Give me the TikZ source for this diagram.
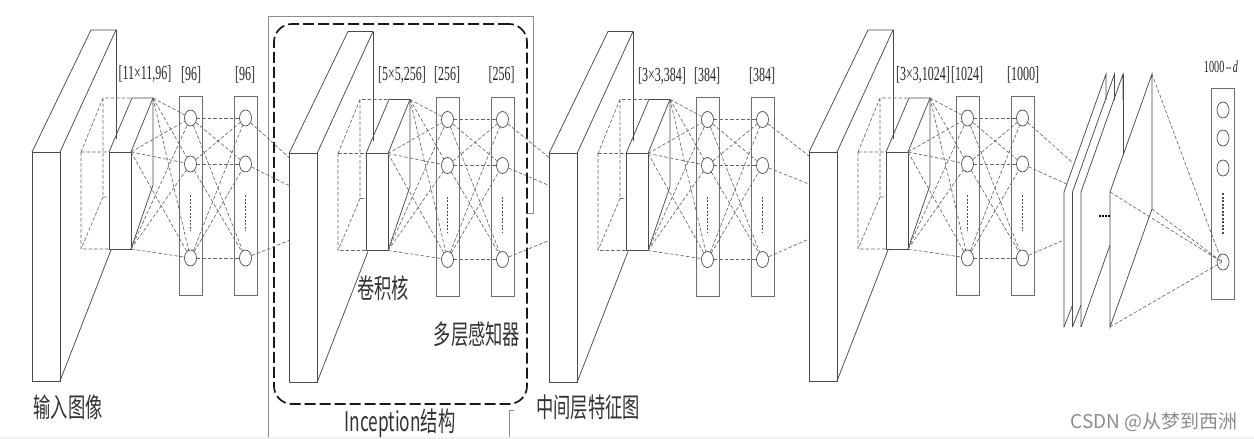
\documentclass[tikz,border=0pt]{standalone}
\usepackage{fontspec}
\setmainfont{Liberation Serif}
\newfontfamily\cjk{Noto Sans CJK SC}
\newfontfamily\wm{Liberation Sans}
\usetikzlibrary{shapes.geometric,calc}
\definecolor{ln}{HTML}{4A4A4A}
\definecolor{fr}{HTML}{8C8C8C}
\tikzset{
  thinln/.style={draw=ln,line width=.75pt},
  dashln/.style={draw=ln!85,line width=.65pt,dash pattern=on 3.5pt off 2pt},
  neuron/.style={ellipse,draw=ln,line width=.7pt,fill=white,inner sep=0pt,minimum width=12pt,minimum height=16pt},
  layerbox/.style={draw=ln!80,line width=.9pt,inner sep=0pt},
  dotsln/.style={draw=ln,line width=1.1pt,dash pattern=on 2pt off 1.5pt},
  dimlabel/.style={inner sep=0pt,font=\fontsize{20}{20}\selectfont,text=black!85},
  cnlabel/.style={inner sep=0pt,font=\fontsize{27}{27}\selectfont\cjk\addfontfeature{},text=black!80}
}
\newcommand{\narrow}[1]{\scalebox{0.6}[1]{#1}}
\newcommand{\cnnarrow}[1]{\scalebox{0.64}[1]{#1}}
% id, dx, dy
\newcommand{\convblock}[3]{%
\begin{scope}[shift={(#2,#3)}]
  % big map
  \coordinate (#1fa) at (32,152);
  \coordinate (#1fb) at (60,152);
  \coordinate (#1fc) at (60,381);
  \coordinate (#1fd) at (32,381);
  \coordinate (#1ta) at (91,30);
  \coordinate (#1tb) at (116,30);
  \coordinate (#1tc) at (116,139);
  \coordinate (#1bd) at (111,250);
  \draw[thinln] (#1fa) -- (#1fb) -- (#1fc) -- (#1fd) -- cycle;
  \draw[thinln] (#1fa) -- (#1ta) -- (#1tb) -- (#1fb);
  \draw[thinln] (#1tb) -- (#1tc);
  \draw[thinln] (#1fc) -- (#1bd);
  % dashed receptive field
  \coordinate (#1da) at (81,152);
  \coordinate (#1db) at (103,98);
  \coordinate (#1dc) at (103,197);
  \coordinate (#1dd) at (81,249);
  \coordinate (#1sa) at (109,152);
  \coordinate (#1sb) at (131,152);
  \coordinate (#1sc) at (131,249);
  \coordinate (#1sd) at (109,249);
  \coordinate (#1se) at (132,98);
  \coordinate (#1sf) at (153,98);
  \coordinate (#1sg) at (153,185);
  \draw[dashln] (#1da) -- (#1sa) (#1da) -- (#1dd) -- (#1sd) (#1da) -- (#1db) -- (#1se)
     (#1db) -- (#1dc) -- (#1dd) (#1dc) -- (109,197);
  % kernel
  \draw[thinln] (#1sa) rectangle (#1sc);
  \draw[thinln] (#1sa) -- (#1se) -- (#1sf) -- (#1sb);
  \draw[thinln] (#1sf) -- (#1sg) -- (#1sc);
  % layers
  \node[layerbox,minimum width=23pt,minimum height=199pt] (#1L) at (190.5,195.5) {};
  \node[layerbox,minimum width=23pt,minimum height=199pt] (#1R) at (245.5,195.5) {};
  \foreach \n/\y in {1/118,2/164,3/258}{
    \node[neuron] (#1l\n) at (190.5,\y) {};
    \node[neuron] (#1r\n) at (245.5,\y) {};
  }
  \draw[dotsln] (190.5,195) -- (190.5,231);
  \draw[dotsln] (245.5,195) -- (245.5,231);
  \foreach \n in {1,2,3}{
    \foreach \c in {sf,sb,sc}{ \draw[dashln] (#1\c) -- (#1l\n); }
    \foreach \m in {1,2,3}{ \draw[dashln] (#1l\n) -- (#1r\m); }
  }
  \coordinate (#1ia) at (32,156);
  \coordinate (#1ib) at (32,184);
  \coordinate (#1ic) at (32,239);
\end{scope}}
\begin{document}
\begin{tikzpicture}[x=1pt,y=-1pt]
\useasboundingbox (0,0) rectangle (1254,439);
\fill[black!6] (0,437) rectangle (1254,439);

% Inception frame
\coordinate (fa) at (268,437);
\coordinate (fb) at (268,16);
\coordinate (fc) at (533,16);
\coordinate (fd) at (533,213);
\coordinate (fe) at (527,213);
\draw[fr,line width=1pt] (fa) -- (fb) -- (fc) -- (fd) -- (fe);
\coordinate (ga) at (509,437);
\coordinate (gb) at (509,410);
\coordinate (gc) at (514,410);
\draw[fr,line width=1pt] (ga) -- (gb) -- (gc);

\convblock{a}{0}{0}
\convblock{b}{257}{1.5}
\convblock{c}{517}{1.5}
\convblock{d}{777}{0}

% dashed rounded frame
\node[draw=black!90,line width=1.7pt,dash pattern=on 11pt off 4pt,rounded corners=18pt,minimum width=253pt,minimum height=380pt,inner sep=0pt] (incep) at (400.5,214) {};

% between blocks
\foreach \s/\t in {a/b,b/c,c/d}{
  \draw[dashln] (\s r1) -- (\t ia);
  \draw[dashln] (\s r2) -- (\t ib);
  \draw[dashln] (\s r3) -- (\t ic);
}

% fully connected plates
\foreach \n/\x in {1/1064,2/1072.5,3/1081}{
  \coordinate (p\n a) at (\x,192);
  \coordinate (p\n b) at (\x,327);
  \coordinate (p\n c) at ({\x+42},74);
  \coordinate (p\n d) at ({\x+42},100);
  \draw[thinln] (p\n b) -- (p\n a) -- (p\n c) -- (p\n d);
}
\coordinate (p3d) at (1123,155);
\draw[thinln] (p3c) -- (p3d);
\coordinate (q1) at (1072.5,305);
\coordinate (q2) at (1081,305);
\coordinate (q3) at (1110,245);
\draw[thinln] (p1b) -- (q1) (p2b) -- (q2) (p3b) -- (q3);
\coordinate (ea) at (1110,192);
\coordinate (eb) at (1110,327);
\coordinate (ec) at (1152,74);
\coordinate (ed) at (1152,209);
\draw[thinln] (ec) -- (ea) -- (eb) -- (ed) -- cycle;
\coordinate (da) at (1099,216);
\coordinate (db) at (1110,216);
\draw[draw=black,line width=1.2pt,dash pattern=on 2pt off 1pt] (da) -- (db);

% incoming to plates
\coordinate (ja) at (1073,163);
\coordinate (jb) at (1066.5,184);
\coordinate (jc) at (1064,240);
\draw[dashln] (dr1) -- (ja);
\draw[dashln] (dr2) -- (jb);
\draw[dashln] (dr3) -- (jc);

% output
\node[layerbox,minimum width=22.5pt,minimum height=211pt] (out) at (1223,193.5) {};
\node[neuron] (o1) at (1223,110) {};
\node[neuron] (o2) at (1223,138) {};
\node[neuron] (o3) at (1223,168) {};
\node[neuron] (o4) at (1223,262) {};
\coordinate (oa) at (1223,193);
\coordinate (ob) at (1223,235);
\draw[dotsln] (oa) -- (ob);
\coordinate (oc) at (1222,262);
\draw[dashln] (ec) -- (oc) (ed) -- (oc) (ea) -- (oc) (eb) -- (oc);

% labels
\node[dimlabel] (t1) at (145,74) {\narrow{[11×11,96]}};
\node[dimlabel] (t2) at (191,75) {\narrow{[96]}};
\node[dimlabel] (t3) at (245,75) {\narrow{[96]}};
\node[dimlabel] (t4) at (402,75) {\narrow{[5×5,256]}};
\node[dimlabel] (t5) at (447,75) {\narrow{[256]}};
\node[dimlabel] (t6) at (501.5,75) {\narrow{[256]}};
\node[dimlabel] (t7) at (662,76) {\narrow{[3×3,384]}};
\node[dimlabel] (t8) at (707,76) {\narrow{[384]}};
\node[dimlabel] (t9) at (762,76) {\narrow{[384]}};
\node[dimlabel] (t10) at (923,75) {\narrow{[3×3,1024]}};
\node[dimlabel] (t11) at (967,75) {\narrow{[1024]}};
\node[dimlabel] (t12) at (1023,75) {\narrow{[1000]}};
\node[inner sep=0pt,font=\fontsize{17}{17}\selectfont,text=black!85] (t13) at (1221,67) {\narrow{1000\,–\,\textit{d}}};

\node[cnlabel] (n1) at (68,407) {\cnnarrow{输入图像}};
\node[cnlabel] (n2) at (383,288) {\cnnarrow{卷积核}};
\node[cnlabel] (n3) at (477,334) {\cnnarrow{多层感知器}};
\node[cnlabel] (n4) at (400,423) {\cnnarrow{Inception结构}};
\node[cnlabel] (n5) at (588,407) {\cnnarrow{中间层特征图}};
\node[inner sep=0pt,text=black!45,font=\fontsize{19}{19}\selectfont\cjk] (wm) at (1154,422) {CSDN @从梦到西洲};
\end{tikzpicture}
\end{document}
